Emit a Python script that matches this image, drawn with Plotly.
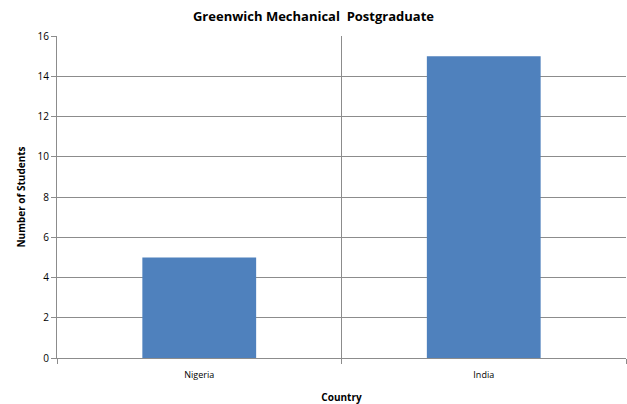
import plotly.graph_objects as go

countries = ["Nigeria", "India"]
students = [5, 15]
y_ticks = [0, 2, 4, 6, 8, 10, 12, 14, 16]

fig = go.Figure(go.Bar(x=countries, y=students, marker_color="#4F81BD",
                       marker_line_width=0, width=0.4))

fig.update_layout(
    width=627, height=404,
    margin=dict(l=57, r=1, t=36, b=46, autoexpand=False),
    plot_bgcolor="white", paper_bgcolor="white",
    font=dict(family="Open Sans, Liberation Sans, sans-serif", size=10, color="#000000"),
    title=dict(text="<b>Greenwich Mechanical  Postgraduate</b>", x=0.5, xanchor="center",
               y=0.96, yanchor="middle", font=dict(size=13)),
    showlegend=False,
    bargap=0.6,
)
fig.update_xaxes(
    tickson="boundaries", showgrid=True, gridcolor="#8C8C8C", gridwidth=1,
    showline=True, linecolor="#8C8C8C", ticks="outside", ticklen=5, tickcolor="#8C8C8C",
    tickfont=dict(size=9), ticklabelstandoff=8, automargin=False,
    title=dict(text="<b>Country</b>", font=dict(size=10), standoff=18),
)
fig.update_yaxes(
    range=[0, 16], tickvals=y_ticks, showgrid=True, gridcolor="#8C8C8C", gridwidth=1,
    showline=True, linecolor="#8C8C8C", ticks="outside", ticklen=5, tickcolor="#8C8C8C",
    tickfont=dict(size=10), zeroline=False, automargin=False,
    title=dict(text="<b>Number of Students</b>", font=dict(size=10), standoff=10),
)

# drop the default page margin so the figure sits at the window origin
fig.write_html("out.html", config={"displayModeBar": False},
               post_script="document.body.style.margin='0';")
